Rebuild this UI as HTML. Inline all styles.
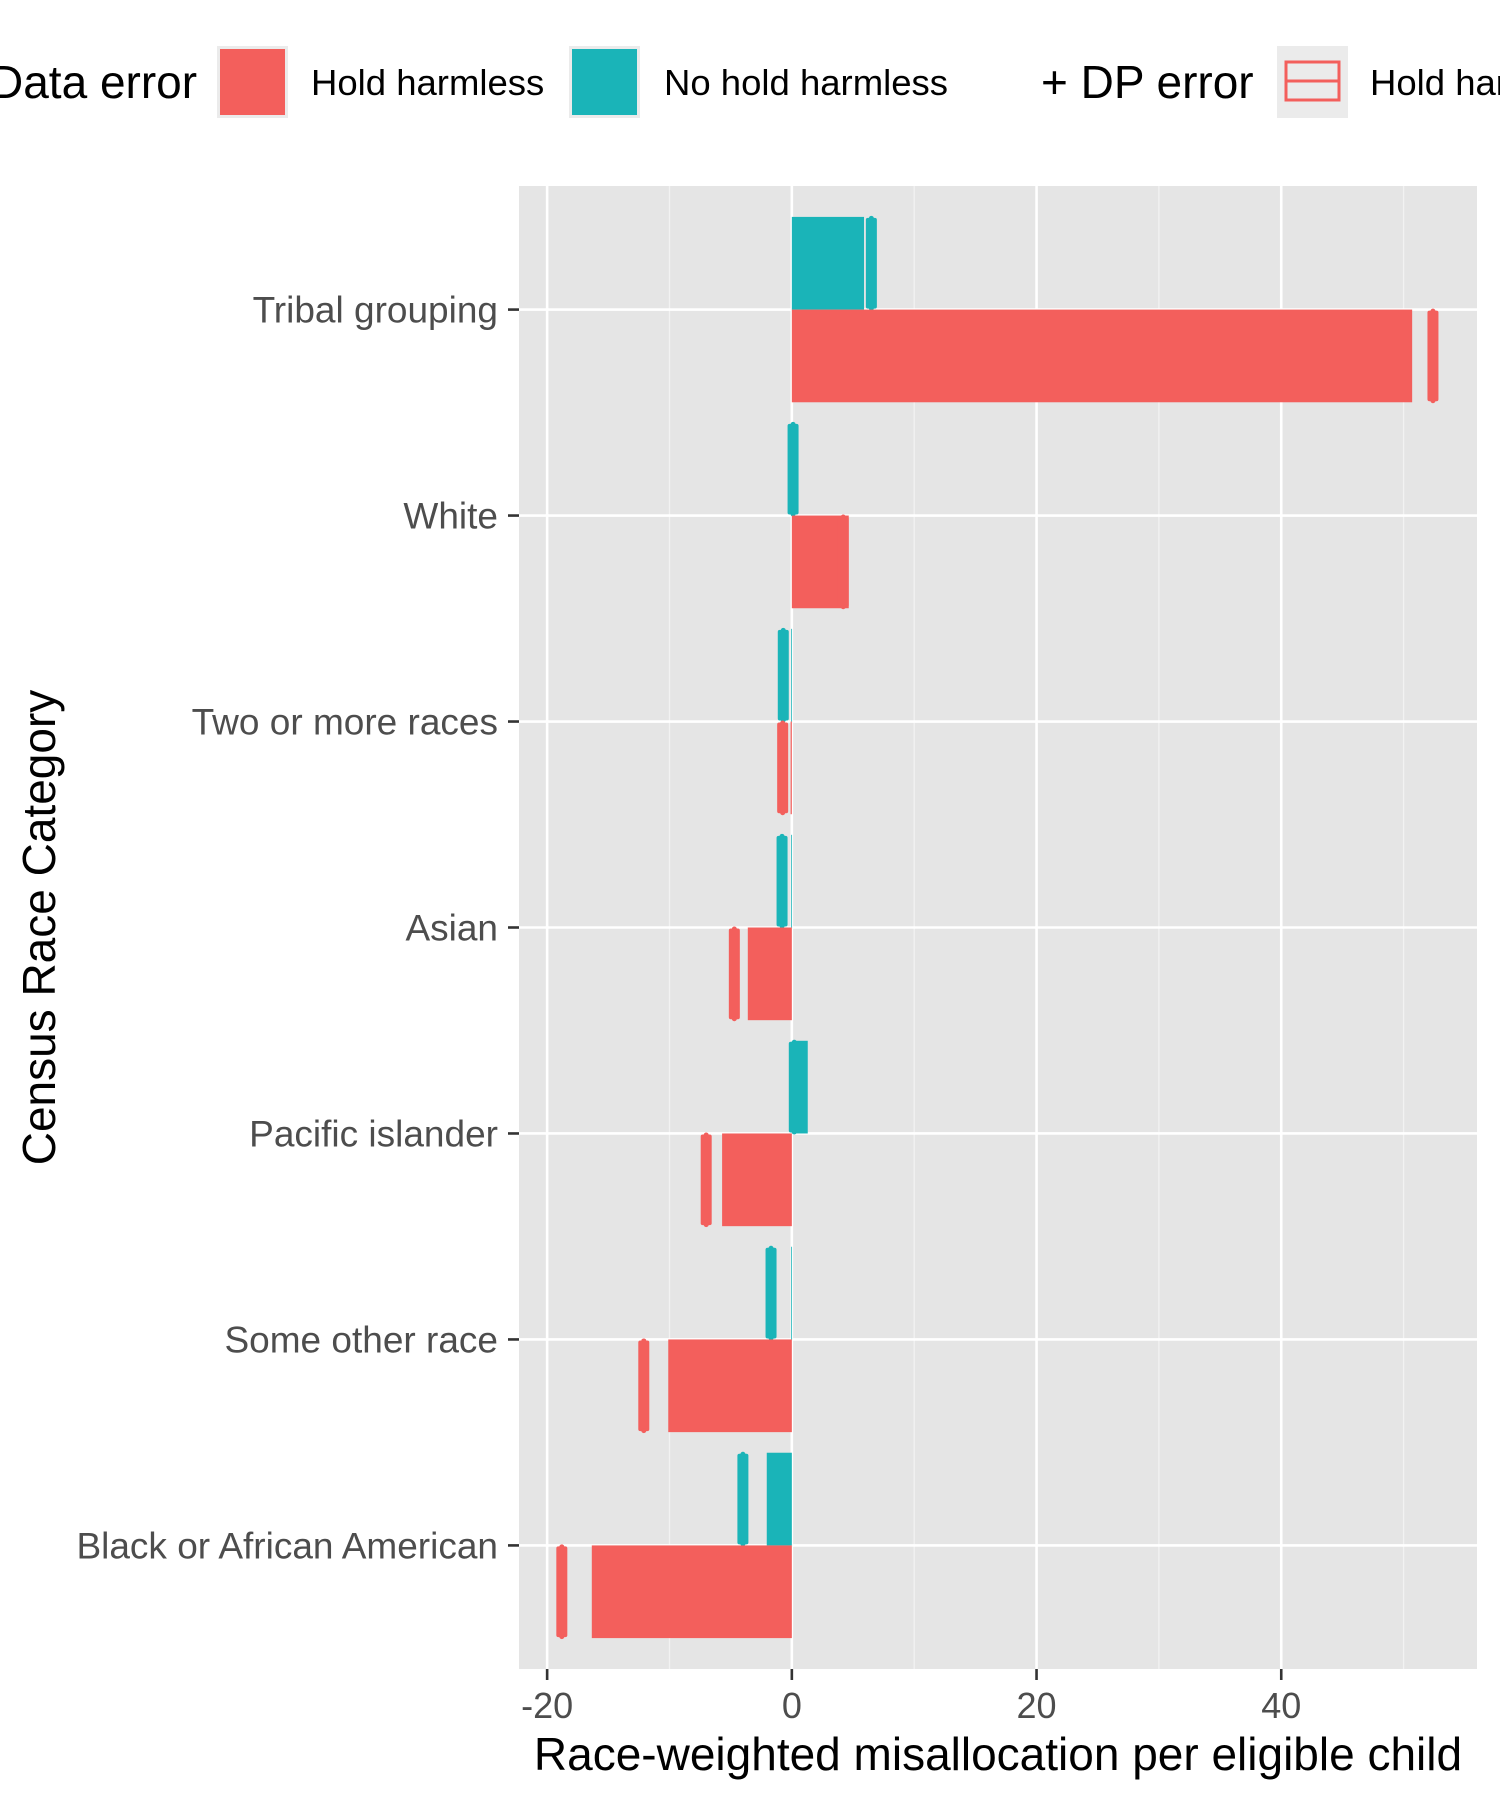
<!DOCTYPE html>
<html><head><meta charset="utf-8"><style>
html,body{margin:0;padding:0;background:#fff;}
svg{display:block;font-family:"Liberation Sans",Arial,sans-serif;}
</style></head><body>
<svg id="chart" width="1500" height="1800" viewBox="0 0 1500 1800" xmlns="http://www.w3.org/2000/svg">
<g>
  <text x="-10" y="98" font-size="46" fill="#000">Data error</text>
  <rect x="217" y="46" width="71" height="72" fill="#ebebeb"/>
  <rect x="220" y="49" width="65" height="66" fill="#F35F5C"/>
  <text x="311" y="95" font-size="36.5" fill="#000">Hold harmless</text>
  <rect x="569" y="46" width="71" height="72" fill="#ebebeb"/>
  <rect x="572" y="49" width="65" height="66" fill="#1AB4B8"/>
  <text x="664" y="95" font-size="36.5" fill="#000">No hold harmless</text>
  <text x="1041" y="98" font-size="46" fill="#000">+ DP error</text>
  <rect x="1277" y="46" width="71" height="72" fill="#ebebeb"/>
  <rect x="1286" y="62" width="53" height="38" fill="none" stroke="#F35F5C" stroke-width="3"/>
  <line x1="1286" y1="81" x2="1339" y2="81" stroke="#F35F5C" stroke-width="3"/>
  <text x="1370" y="95" font-size="36.5" fill="#000">Hold harmless</text>
</g>
<g id="plot"></g>
</svg>
<script>
const categories = ["Black or African American","Some other race","Pacific islander","Asian","Two or more races","White","Tribal grouping"];
const holdData   = [-16.35, -10.1, -5.7, -3.6, -0.1, 4.65, 50.7];
const holdDP     = [-18.8, -12.1, -7.0, -4.7, -0.75, 4.2, 52.4];
const noHoldData = [-2.05, -0.05, 1.3, -0.05, -0.05, 0.0, 5.9];
const noHoldDP   = [-4.0, -1.7, 0.2, -0.8, -0.7, 0.1, 6.5];
const xMajor = [-20, 0, 20, 40];
const xMinor = [-10, 10, 30, 50];
const xTickLabels = ["-20","0","20","40"];

const NS = "http://www.w3.org/2000/svg";
const P = {l:519, r:1477, t:186, b:1669};
const xMin = -22.3, xMax = 56.0;
function xs(v){ return P.l + (v - xMin) / (xMax - xMin) * (P.r - P.l); }
const n = categories.length;
const unit = (P.b - P.t) / (n - 1 + 1.2);
function ys(i){ return P.b - (0.6 + i) * unit; }
const g = document.getElementById('plot');
function mk(tag, attrs, parent){ const e = document.createElementNS(NS, tag); for (const k in attrs) e.setAttribute(k, attrs[k]); (parent||g).appendChild(e); return e; }

const bg = mk('rect', {x:P.l, y:P.t, width:P.r-P.l, height:P.b-P.t, fill:'#e5e5e5'});


xMinor.forEach(v => {
  const l = mk('line', {x1:xs(v), x2:xs(v), y1:P.t, y2:P.b, stroke:'#f2f2f2', 'stroke-width':1.3});
  
  
});
xMajor.forEach(v => {
  const l = mk('line', {x1:xs(v), x2:xs(v), y1:P.t, y2:P.b, stroke:'#fff', 'stroke-width':2.6});
  
  
});
categories.forEach((c, i) => {
  const l = mk('line', {x1:P.l, x2:P.r, y1:ys(i), y2:ys(i), stroke:'#fff', 'stroke-width':2.6});
  
  
});
const half = unit * 0.45;
function bar(v, y0, col, name){
  const x0 = Math.min(xs(0), xs(v)), w = Math.max(Math.abs(xs(v) - xs(0)), 0.8);
  const r = mk('rect', {x:x0, y:y0, width:w, height:half, fill:col});
  
  
}
function dp(v, y0, col, name){
  const cx = xs(v);
  const r = mk('rect', {x:cx-5.5, y:y0+1, width:11, height:half-2, fill:col, rx:2});
  
  
  mk('circle', {cx:cx, cy:y0+1.5, r:2.5, fill:col});
  mk('circle', {cx:cx, cy:y0+half-1.5, r:2.5, fill:col});
}
categories.forEach((c, i) => {
  const yc = ys(i);
  bar(noHoldData[i], yc - half, '#1AB4B8', 'bar-no-hold-harmless');
  dp(noHoldDP[i], yc - half, '#1AB4B8', 'dp-error-no-hold-harmless');
  bar(holdData[i], yc, '#F35F5C', 'bar-hold-harmless');
  dp(holdDP[i], yc, '#F35F5C', 'dp-error-hold-harmless');
  const t = mk('line', {x1:P.l-11, x2:P.l, y1:yc, y2:yc, stroke:'#333', 'stroke-width':2.6});
  
  
  const lab = mk('text', {x:P.l-21, y:yc+13, 'text-anchor':'end', 'font-size':37, fill:'#4d4d4d'});
  lab.textContent = c;
  
  
});
xMajor.forEach((v, i) => {
  const t = mk('line', {x1:xs(v), x2:xs(v), y1:P.b, y2:P.b+11, stroke:'#333', 'stroke-width':2.6});
  
  
  const lab = mk('text', {x:xs(v), y:P.b+49, 'text-anchor':'middle', 'font-size':36, fill:'#4d4d4d'});
  lab.textContent = xTickLabels[i];
  
  
});
const xt = mk('text', {x:(P.l+P.r)/2, y:1770, 'text-anchor':'middle', 'font-size':46, fill:'#000'});
xt.textContent = 'Race-weighted misallocation per eligible child';


const yt = mk('text', {x:0, y:0, 'text-anchor':'middle', 'font-size':46, fill:'#000', transform:'translate(55,'+((P.t+P.b)/2)+') rotate(-90)'});
yt.textContent = 'Census Race Category';


</script>
</body></html>
